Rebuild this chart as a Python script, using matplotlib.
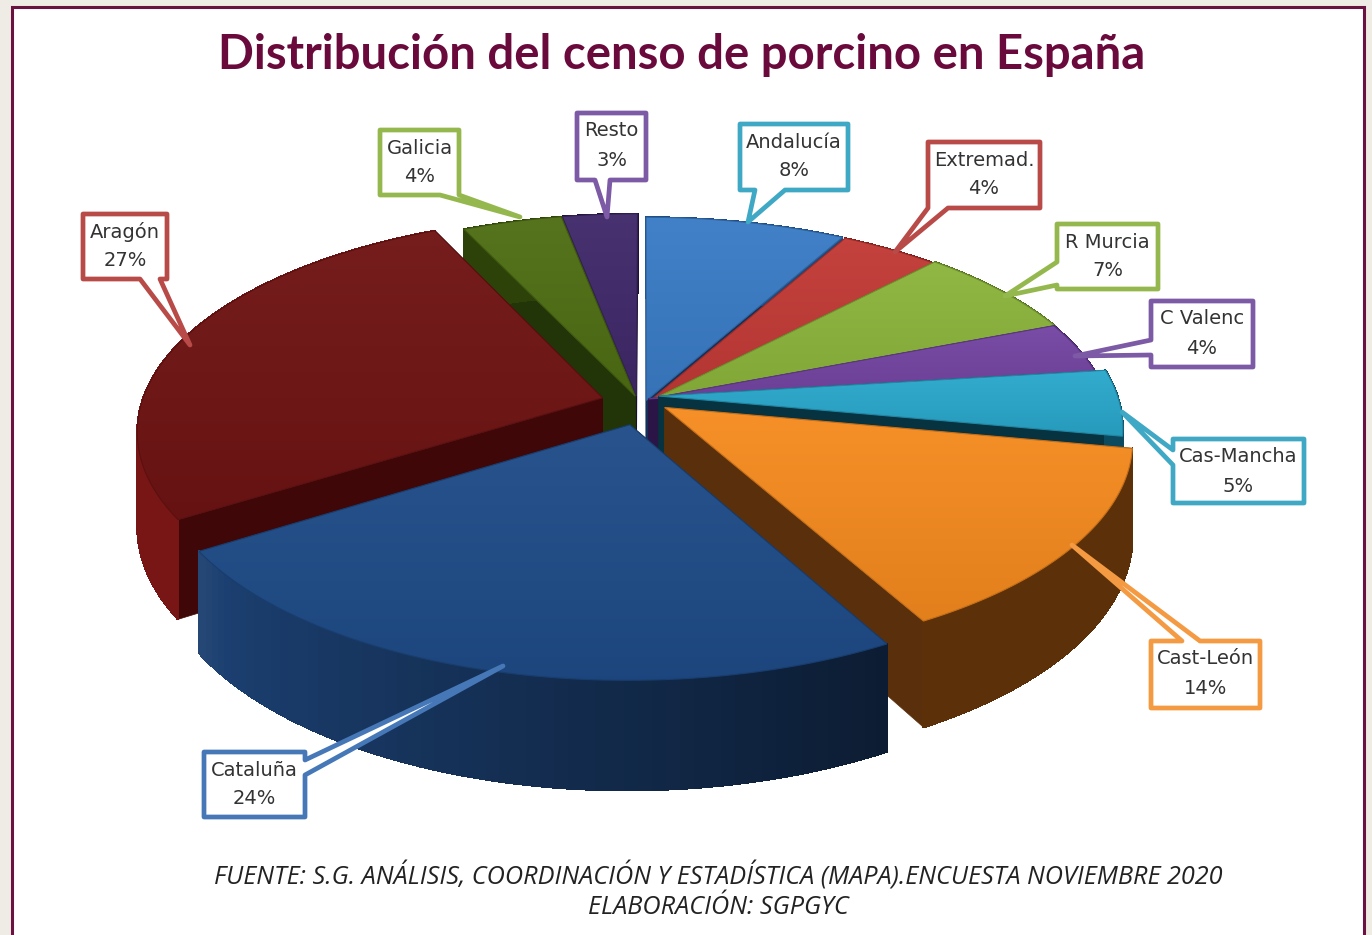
import matplotlib
matplotlib.use('Agg')
import matplotlib.pyplot as plt
import numpy as np
from matplotlib.patches import Polygon, Rectangle
from matplotlib.collections import PolyCollection
from matplotlib.colors import to_rgb

# data
regions = ['Andalucía', 'Extremad.', 'R Murcia', 'C Valenc', 'Cas-Mancha',
           'Cast-León', 'Cataluña', 'Aragón', 'Galicia', 'Resto']
percent = [8, 4, 7, 4, 5, 14, 24, 27, 4, 3]
explode = [0.01, 0.015, 0.015, 0.02, 0.03, 0.06, 0.13, 0.09, 0.03, 0.02]
# small sideways/back shifts on top of the radial explode
shift_u = [0, 0, 0, -0.012, 0, -0.006, 0, -0.006, -0.012, -0.017]
shift_v = [-0.012, -0.02, -0.01, 0, 0.02, 0.0, 0.01, -0.015, -0.01, 0]
top_colors = ['#3a7cc6', '#c23a36', '#8cb53c', '#7445a2', '#2aa8cc',
              '#f68b1f', '#1f4c88', '#701414', '#4f6e14', '#40296a']
wall_colors = ['#1c4a80', '#7a1d1a', '#50701c', '#43246a', '#0c4a60',
               '#5c3008', '#1b3f70', '#781616', '#2c4209', '#1e1238']
side_colors = ['#14305a', '#5a1412', '#33480f', '#2a1546', '#07323f',
               '#5a300c', '#0e2648', '#3f0707', '#213508', '#170e2c']
border_colors = ['#3fa8c4', '#b84a47', '#94b84e', '#7d5aa6', '#3fa8c4',
                 '#f49a42', '#4678b8', '#b84a47', '#94b84e', '#7d5aa6']
# callout boxes x0, y0, x1, y1 and tail tips, picture pixels
boxes = [(740, 124, 848, 190), (928, 142, 1040, 208), (1057, 224, 1158, 289),
         (1151, 301, 1253, 367), (1173, 439, 1304, 503), (1151, 641, 1260, 708),
         (204, 752, 305, 817), (83, 214, 167, 279), (380, 130, 459, 195),
         (577, 113, 646, 180)]
tips = [(748, 222), (895, 252), (1005, 296), (1075, 356), (1122, 412),
        (1072, 545), (503, 666), (190, 345), (520, 217), (607, 217)]
tail_base = [((755, 190), (785, 190)), ((928, 208), (948, 208)), ((1057, 262), (1057, 285)),
             ((1151, 340), (1151, 355)), ((1173, 450), (1173, 465)), ((1182, 641), (1200, 641)),
             ((305, 760), (305, 775)), ((140, 279), (160, 279)), ((440, 195), (459, 195)),
             ((595, 180), (610, 180))]
draw_order = [9, 0, 8, 1, 2, 3, 7, 4, 5, 6]

cx, cy = 645, 400
rx, ry = 460, 210
persp = 0.147
depth = 92

fig = plt.figure(figsize=(13.72, 9.35), dpi=100, facecolor='#efebe5')
ax = fig.add_axes([0, 0, 1, 1])
ax.set_xlim(0, 1372)
ax.set_ylim(935, 0)
ax.axis('off')
ax.add_patch(Rectangle((12, 7), 1352, 940, fc='white', ec='#6a1240', lw=2.2, zorder=0))


def to_screen(u, v, drop=0.0):
    s = 1 / (1 + persp * v)
    return cx + rx * u * s, cy - ry * v * s + drop * s


def shade(col, f):
    c = np.array(to_rgb(col))
    if f > 1:
        return tuple(c + (1 - c) * (f - 1))
    return tuple(c * f)


z = 1
start = 0.0
slices = []
for p, e in zip(percent, explode):
    a0, a1 = start, start + p * 3.6
    start = a1
    slices.append((np.radians(a0), np.radians(a1), e))

for i in draw_order:
    a0, a1, e = slices[i]
    mid = (a0 + a1) / 2
    ou, ov = e * np.sin(mid) + shift_u[i], e * np.cos(mid) + shift_v[i]
    th = np.linspace(a0, a1, 60)
    us = ou + np.sin(th)
    vs = ov + np.cos(th)
    xt, yt = to_screen(us, vs)
    xb, yb = to_screen(us, vs, depth)
    tx, ty = to_screen(ou, ov)
    txb, tyb = to_screen(ou, ov, depth)

    # cut faces
    for k in (0, -1):
        ax.add_patch(Polygon([(tx, ty), (xt[k], yt[k]), (xb[k], yb[k]), (txb, tyb)],
                             fc=side_colors[i], ec=side_colors[i], lw=0.5, zorder=z))
    z += 1

    # outer wall, Cataluña darkens towards the right
    quads = []
    cols = []
    for k in range(len(th) - 1):
        quads.append([(xt[k], yt[k]), (xt[k + 1], yt[k + 1]), (xb[k + 1], yb[k + 1]), (xb[k], yb[k])])
        f = 1.0
        if regions[i] == 'Cataluña':
            f = 1.05 - 0.6 * (1 - (th[k] - a0) / (a1 - a0))
        cols.append(shade(wall_colors[i], f))
    ax.add_collection(PolyCollection(quads, facecolors=cols, edgecolors=cols, linewidths=0.8,
                                     antialiaseds=False, zorder=z))
    z += 1

    # top face with a soft vertical gradient
    poly = np.column_stack([np.r_[tx, xt], np.r_[ty, yt]])
    grad = np.linspace(0, 1, 64).reshape(-1, 1)
    c0 = np.array(shade(top_colors[i], 1.04))
    c1 = np.array(shade(top_colors[i], 0.92))
    img = c0 + (c1 - c0) * grad[:, :, None]
    im = ax.imshow(img, extent=(poly[:, 0].min(), poly[:, 0].max(), poly[:, 1].max(), poly[:, 1].min()),
                   aspect='auto', zorder=z, interpolation='bilinear')
    clip = Polygon(poly, transform=ax.transData, fc='none', ec='none')
    ax.add_patch(clip)
    im.set_clip_path(clip)
    ax.add_patch(Polygon(poly, fc='none', ec=shade(top_colors[i], 0.8), lw=0.8, zorder=z))
    z += 1

ax.set_xlim(0, 1372)
ax.set_ylim(935, 0)

# callouts
for name, val, box, tip, base, col in zip(regions, percent, boxes, tips, tail_base, border_colors):
    x0, y0, x1, y1 = box
    b0, b1 = base
    if b0[1] == b1[1] and b0[1] == y1:
        path = [(x0, y0), (x1, y0), (x1, y1), b1, tip, b0, (x0, y1)]
    elif b0[1] == b1[1] and b0[1] == y0:
        path = [(x0, y0), b0, tip, b1, (x1, y0), (x1, y1), (x0, y1)]
    elif b0[0] == x0:
        path = [(x0, y0), (x1, y0), (x1, y1), (x0, y1), b1, tip, b0]
    else:
        path = [(x0, y0), (x1, y0), b0, tip, b1, (x1, y1), (x0, y1)]
    ax.add_patch(Polygon(path, fc='white', ec=col, lw=3.4, joinstyle='round', zorder=500))
    mx = (x0 + x1) / 2
    ax.text(mx, y0 + 18, name, ha='center', va='center', fontsize=14, color='#333333',
            family='DejaVu Sans', zorder=501)
    ax.text(mx, y0 + 47, f'{val}%', ha='center', va='center', fontsize=14, color='#333333',
            family='DejaVu Sans', zorder=501)

ax.text(682, 55, 'Distribución del censo de porcino en España', ha='center', va='center',
        fontsize=34, fontweight='bold', color='#6a0a3c', family='Lato', zorder=501)
ax.text(718, 876, 'FUENTE: S.G. ANÁLISIS, COORDINACIÓN Y ESTADÍSTICA (MAPA).ENCUESTA NOVIEMBRE 2020',
        ha='center', va='center', fontsize=18.2, style='italic', color='#222222', family='Open Sans', zorder=501)
ax.text(718, 908, 'ELABORACIÓN: SGPGYC', ha='center', va='center', fontsize=18.2, style='italic',
        color='#222222', family='Open Sans', zorder=501)

fig.savefig('out.png', dpi=100, facecolor=fig.get_facecolor())
